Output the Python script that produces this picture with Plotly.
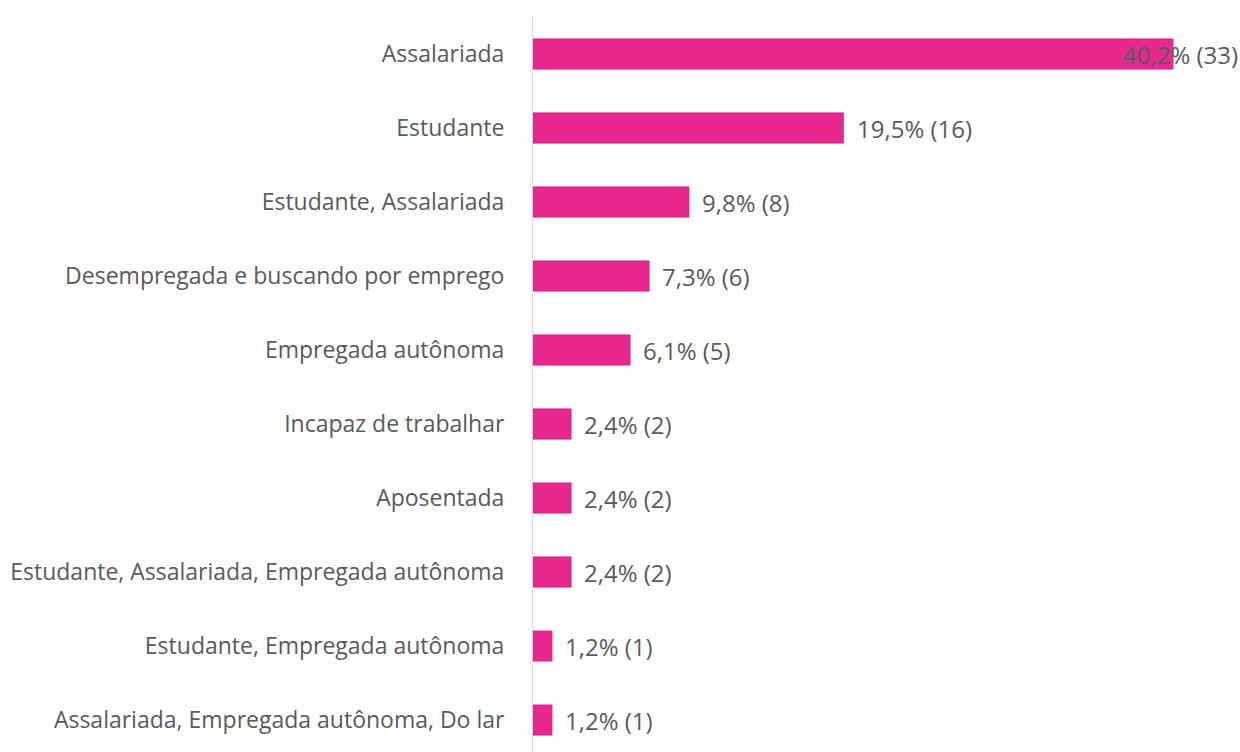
import plotly.graph_objects as go

# Occupation categories, top to bottom
categories = [
    "Assalariada",
    "Estudante",
    "Estudante, Assalariada",
    "Desempregada e buscando por emprego",
    "Empregada autônoma",
    "Incapaz de trabalhar",
    "Aposentada",
    "Estudante, Assalariada, Empregada autônoma",
    "Estudante, Empregada autônoma",
    "Assalariada, Empregada autônoma, Do lar",
]
percentages = [40.2, 19.5, 9.8, 7.3, 6.1, 2.4, 2.4, 2.4, 1.2, 1.2]
counts = [33, 16, 8, 6, 5, 2, 2, 2, 1, 1]

labels = [f"{p:.1f}".replace(".", ",") + f"% ({c})" for p, c in zip(percentages, counts)]

# plot bottom-up so the first category sits on top
cats_r = categories[::-1]
vals_r = percentages[::-1]
labels_r = labels[::-1]

PINK = "#E8288F"
TEXT = "#5A5A5A"
FONT = "Open Sans"
TICK_SIZE = 23
VALUE_SIZE = 24

fig = go.Figure(
    go.Bar(
        x=vals_r,
        y=cats_r,
        orientation="h",
        marker=dict(color=PINK, line=dict(color="#C9237D", width=0.6)),
        width=0.41,
        hoverinfo="skip",
    )
)

# value labels just past each bar end; keep the widest one inside the page
x_max = 44.4
label_limit = 36.9
for v, c, t in zip(vals_r, cats_r, labels_r):
    fig.add_annotation(
        x=min(v + 0.7, label_limit),
        y=c,
        text=t,
        showarrow=False,
        xanchor="left",
        yanchor="middle",
        font=dict(family=FONT, size=VALUE_SIZE, color=TEXT),
    )

fig.update_layout(
    width=1240,
    height=752,
    margin=dict(l=533, r=0, t=17, b=0),
    paper_bgcolor="white",
    plot_bgcolor="white",
    showlegend=False,
    font=dict(family=FONT, size=TICK_SIZE, color=TEXT),
)
fig.update_xaxes(
    range=[0, x_max],
    visible=False,
    showgrid=False,
    zeroline=False,
)
fig.update_yaxes(
    range=[-0.432, 9.5],
    showgrid=False,
    zeroline=False,
    showline=True,
    linecolor="#D9D9D9",
    linewidth=1,
    ticks="",
    ticklabelstandoff=23,
    tickfont=dict(family=FONT, size=TICK_SIZE, color=TEXT),
)

fig.write_html("out.html")
